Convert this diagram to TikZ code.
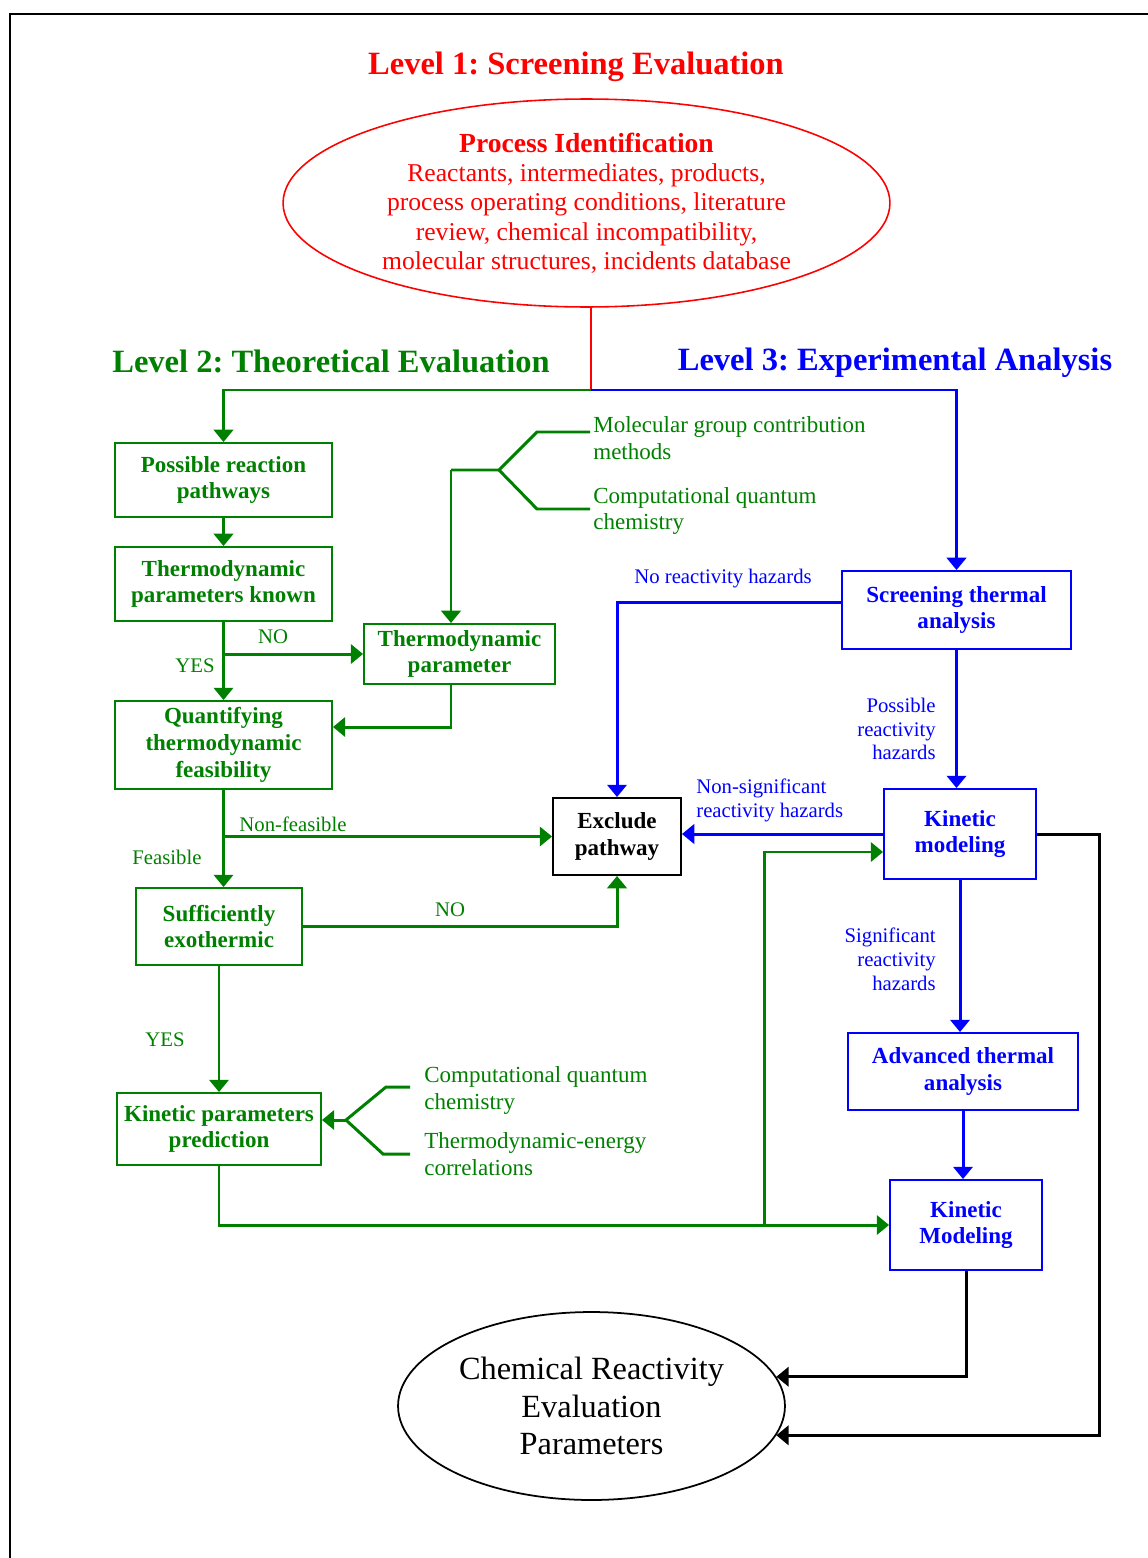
\documentclass[tikz,border=0pt]{standalone}
\usepackage{fontspec}
\setmainfont{Liberation Serif}
\usetikzlibrary{shapes.geometric,arrows.meta,positioning}
\definecolor{verde}{RGB}{0,128,0}
\definecolor{azul}{RGB}{0,0,255}
\definecolor{rojo}{RGB}{255,0,0}
\frenchspacing

\begin{document}
\begin{tikzpicture}[x=0.02cm, y=-0.02cm,
  >={Triangle[length=7pt,width=11pt]},
  caja/.style={draw, line width=1.1pt, align=center, inner sep=0pt,
    font=\fontsize{13.1}{15.3}\selectfont\bfseries},
  cajav/.style={caja, verde, text=verde},
  cajaa/.style={caja, azul, text=azul},
  cajan/.style={caja, black},
  titulo/.style={font=\fontsize{18.5}{22}\selectfont\bfseries},
  rama/.style={align=left, inner sep=0pt, verde, font=\fontsize{13.1}{15.3}\selectfont},
  etiq/.style={inner sep=0pt, font=\fontsize{11.8}{13.6}\selectfont},
  flechav/.style={->, verde, line width=1.7pt},
  flechaa/.style={->, azul, line width=1.7pt},
  flechan/.style={->, black, line width=1.7pt}]
  \useasboundingbox (0,0) rectangle (1148,1558);
  \draw[line width=1.2pt] (10,1558) -- (10,14) -- (1148,14);

  % Titulos
  \node[titulo, rojo] (nivel1) at (576,67) {Level 1: Screening Evaluation};
  \node[titulo, verde] (nivel2) at (331,361) {Level 2: Theoretical Evaluation};
  \node[titulo, azul] (nivel3) at (895,363) {Level 3: Experimental Analysis};

  % Nodos
  \node[ellipse, draw=rojo, line width=0.9pt, text=rojo, align=center, inner sep=0pt,
    minimum width=12.14cm, minimum height=4.16cm,
    font=\fontsize{14.6}{16.7}\selectfont] (proceso) at (586.5,203)
    {{\fontsize{15.7}{17.6}\selectfont\bfseries Process Identification}\\
     Reactants, intermediates, products,\\
     process operating conditions, literature\\
     review, chemical incompatibility,\\
     molecular structures, incidents database};

  \node[cajav, minimum width=4.34cm, minimum height=1.48cm] (posible) at (223.5,480) {Possible reaction\\pathways};
  \node[cajav, minimum width=4.34cm, minimum height=1.48cm] (conocidos) at (223.5,584) {Thermodynamic\\parameters known};
  \node[cajav, minimum width=3.82cm, minimum height=1.2cm] (param) at (459.5,654) {Thermodynamic\\parameter};
  \node[cajav, minimum width=4.34cm, minimum height=1.76cm] (cuantif) at (223.5,745) {Quantifying\\thermodynamic\\feasibility};
  \node[cajav, minimum width=3.32cm, minimum height=1.54cm] (exot) at (219,926.5) {Sufficiently\\exothermic};
  \node[cajav, minimum width=4.08cm, minimum height=1.44cm] (kpp) at (219,1129) {Kinetic parameters\\prediction};
  \node[cajan, minimum width=2.56cm, minimum height=1.54cm] (excluir) at (617,836.5) {Exclude\\pathway};
  \node[cajaa, minimum width=4.58cm, minimum height=1.56cm] (cribado) at (956.5,610) {Screening thermal\\analysis};
  \node[cajaa, minimum width=3.04cm, minimum height=1.8cm] (cinetico) at (960,834) {Kinetic\\modeling};
  \node[cajaa, minimum width=4.6cm, minimum height=1.54cm] (avanzado) at (963,1071.5) {Advanced thermal\\analysis};
  \node[cajaa, minimum width=3.04cm, minimum height=1.8cm] (modelado) at (966,1225) {Kinetic\\Modeling};
  \node[ellipse, draw, line width=1pt, align=center, inner sep=0pt,
    minimum width=7.74cm, minimum height=3.76cm,
    font=\fontsize{18.4}{21.3}\selectfont] (final) at (591.5,1406)
    {Chemical Reactivity\\Evaluation\\Parameters};

  \node[rama, anchor=west] (molec) at (593,438.5) {Molecular group contribution\\methods};
  \node[rama, anchor=west] (cuant1) at (593,511) {Computational quantum\\chemistry};
  \node[rama, anchor=west] (cuant2) at (424,1090.5) {Computational quantum\\chemistry};
  \node[rama, anchor=west] (correl) at (424,1154.5) {Thermodynamic-energy\\correlations};

  % Etiquetas
  \node[etiq, verde] (si1) at (195,666) {YES};
  \node[etiq, verde] (no1) at (273,637) {NO};
  \node[etiq, verde] (fact) at (167,857) {Feasible};
  \node[etiq, verde] (nofact) at (293,824) {Non-feasible};
  \node[etiq, verde] (no2) at (450,910) {NO};
  \node[etiq, verde] (si2) at (165,1040) {YES};
  \node[etiq, azul] (sinpel) at (723,579) {No reactivity hazards};
  \node[etiq, azul, align=right, anchor=east] (pospel) at (936,729) {Possible\\reactivity\\hazards};
  \node[etiq, azul, align=left, anchor=west] (nosig) at (696,800) {Non-significant\\reactivity hazards};
  \node[etiq, azul, align=right, anchor=east] (sig) at (936,959) {Significant\\reactivity\\hazards};

  \coordinate (div) at (591,390);
  \coordinate (ramaA) at (451,470);
  \coordinate (horq1) at (499,470);
  \coordinate (horq2) at (346,1120);
  \coordinate (sube) at (764,1225);
  \coordinate (der) at (1099,831);

  % Flechas
  \draw[rojo, line width=1.2pt] (div |- proceso.south) -- (div);
  \draw[flechav] (div) -| (posible.north);
  \draw[flechaa] (div) -| (cribado.north);
  \draw[flechav] (posible) -- (conocidos);
  \draw[flechav] (conocidos) -- (cuantif);
  \draw[flechav] (conocidos.south |- param.west) -- (param.west);
  \draw[verde, line width=1.7pt] (ramaA) -- (horq1) -- (537,432) -- (590,432);
  \draw[verde, line width=1.7pt] (horq1) -- (537,509) -- (590,509);
  \draw[flechav] (ramaA) -- (ramaA |- param.north);
  \draw[flechav] (param.south -| ramaA) |- ([yshift=0.36cm]cuantif.east);
  \draw[flechav] (cuantif.south) -- (cuantif.south |- exot.north);
  \draw[flechav] (cuantif.south |- excluir.west) -- (excluir.west);
  \draw[flechav] (exot.east) -| (excluir.south);
  \draw[flechav] (exot) -- (kpp);
  \draw[verde, line width=1.7pt] (410,1087) -- (386,1087) -- (horq2) -- (383,1154) -- (410,1154);
  \draw[flechav] (horq2) -- (kpp.east |- horq2);
  \draw[flechav] (kpp.south) |- (modelado.west);
  \draw[flechav] (sube) |- ([yshift=-0.36cm]cinetico.west);
  \draw[flechaa] ([yshift=0.16cm]cribado.west) -| (excluir.north);
  \draw[flechaa] (cribado.south) -- (cribado.south |- cinetico.north);
  \draw[flechaa] (cinetico.west) -- (excluir.east |- cinetico.west);
  \draw[flechaa] (cinetico.south) -- (cinetico.south |- avanzado.north);
  \draw[flechaa] (avanzado.south) -- (avanzado.south |- modelado.north);
  \draw[flechan] (modelado.south) |- (final.9.6);
  \draw[flechan] (cinetico.east) -- (cinetico.east -| der) |- (final.-9.6);
\end{tikzpicture}
\end{document}
